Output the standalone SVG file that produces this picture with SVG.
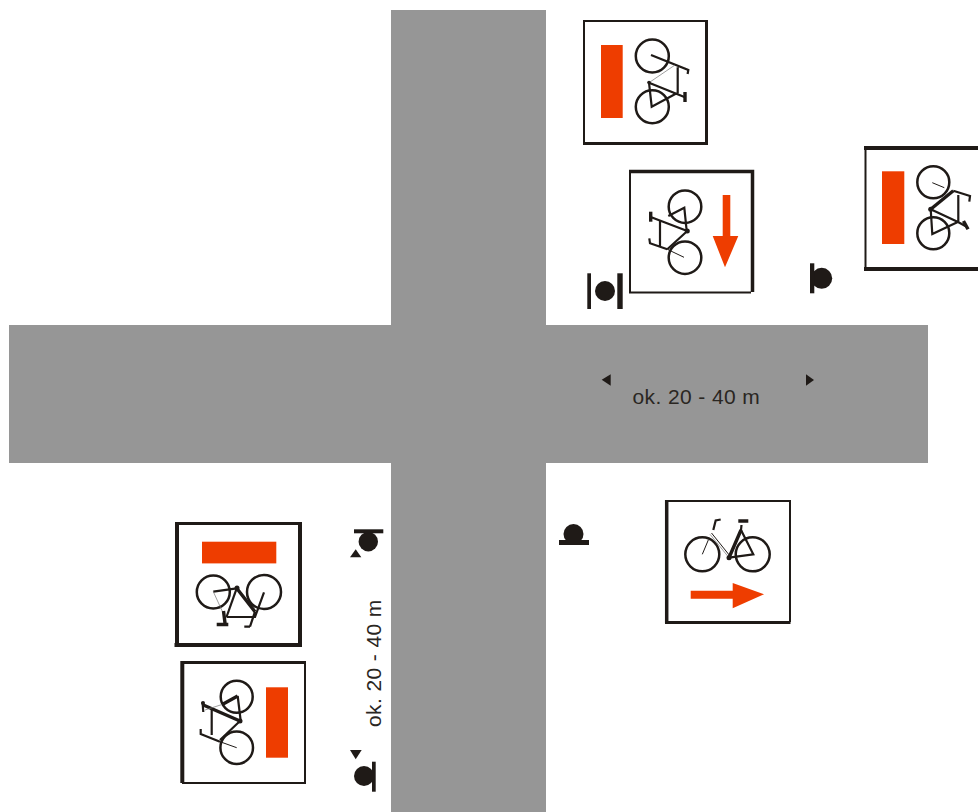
<svg xmlns="http://www.w3.org/2000/svg" width="978" height="812" viewBox="0 0 978 812">
<style>
.road{fill:#969696}
.red{fill:#ee3d00}
.ink{fill:#1f1a17}
.box{fill:#fff}
.e{stroke:#1f1a17;fill:none}
.wheel{stroke:#1f1a17;fill:none;stroke-width:2.500}
.b1{stroke:#1f1a17;fill:none;stroke-width:1}
.b2{stroke:#1f1a17;fill:none;stroke-width:2.200}
.b3{stroke:#1f1a17;fill:none;stroke-width:3.400}
.thin{stroke:#777;fill:none;stroke-width:.7}
.lbl{font-family:"Liberation Sans",Arial,sans-serif;font-size:21px;letter-spacing:.4px;fill:#2a2622}
</style>
<g id="roads">
<rect class="road" x="391" y="10" width="155" height="802"/>
<rect class="road" x="9" y="325" width="919" height="138"/>
</g>
<g id="sign-top">
<rect class="box" x="584" y="20" width="122" height="122"/>
<path class="e" stroke-width="2" d="M584 142V21H706"/>
<path class="e" stroke-width="3" d="M706.500 20V143.500H583"/>
<rect class="red" x="601" y="45" width="21.700" height="73"/>
<circle class="wheel" cx="652.300" cy="56" r="16.500"/>
<circle class="wheel" cx="652.300" cy="106.700" r="16.500"/>
<path class="b2" d="M651 55L688.300 70L687.600 74M677.700 67.300V93.300M649 82.700L685 97.300M649 82.700L651.700 106.700L676.700 93.300"/>
<path class="thin" d="M675 65L649 82.700"/>
<path class="b3" d="M685 92V102"/>
<circle class="ink" cx="649" cy="82.500" r="1.800"/>
</g>
<g id="sign-down">
<rect class="box" x="630" y="171" width="122" height="121"/>
<path class="e" stroke-width="2" d="M630 171V292.500H751"/>
<path class="e" stroke-width="3.500" d="M629 171.500H752.500V292"/>
<path class="red" d="M722.700 195H730.300V236H738.300L725 267.300L712.700 236H722.700Z"/>
<circle class="wheel" cx="685" cy="206.700" r="16.300"/>
<circle class="wheel" cx="685" cy="257.700" r="16.300"/>
<path class="b2" d="M650 216.700L687.300 231M660 220V247.300M668.300 216L684.300 207.700L686.700 231M667.300 249.300L687.300 231M649.300 238.300L650 243.300L667.300 249.300"/>
<path class="b1" d="M667.300 249.300L684 257.300"/>
<path class="b3" d="M650.700 211.700V221.700"/>
<circle class="ink" cx="687.300" cy="231" r="2.500"/>
</g>
<g id="sign-right">
<rect class="box" x="865" y="148" width="113" height="120"/>
<path class="e" stroke-width="2" d="M865.500 148V268"/>
<path class="e" stroke-width="4" d="M864 148H978M864 269H978"/>
<rect class="red" x="882" y="171.300" width="22.300" height="72.700"/>
<circle class="wheel" cx="933.300" cy="182.300" r="16"/>
<circle class="wheel" cx="933.300" cy="233.300" r="16"/>
<path class="b1" d="M932.300 182.700L944.300 187.700"/>
<path class="b3" d="M953.300 190.700L930.700 209.300"/>
<path class="b2" d="M953.300 190.700L970 196L969.300 201.700M958.300 195V221.700M930.700 209.300L958 222L966.700 226.700M930.700 209.300L932.300 234L958.300 221.700"/>
<path class="b3" d="M963.500 221L968 229.300"/>
<circle class="ink" cx="930.700" cy="209.300" r="2.500"/>
</g>
<g id="sign-left-top">
<rect class="box" x="176" y="523" width="124" height="122"/>
<path class="e" stroke-width="4" d="M177 522V647M174.500 645H301.500M300 647V522"/>
<path class="e" stroke-width="3" d="M175 523.500H301"/>
<rect class="red" x="202" y="541.700" width="74.300" height="21.700"/>
<circle class="wheel" cx="213.300" cy="592" r="16.500"/>
<circle class="wheel" cx="264" cy="592" r="17"/>
<path class="b2" d="M213.300 591.700L236.700 588.300M226.500 617H255L264 592.300M255 611.700L250 626.700M244.300 626.700H250"/>
<path class="thin" d="M213.300 591.700L224 615"/>
<path class="b2" d="M236.700 588.300L226.500 617"/>
<path class="b3" d="M236.700 588.300L255 611.700M223.500 611L225 623M216.700 624.500H228.300"/>
<circle class="ink" cx="237" cy="588" r="2.500"/>
</g>
<g id="sign-left-bottom">
<rect class="box" x="182" y="662" width="123" height="121"/>
<path class="e" stroke-width="4" d="M182.300 661V783"/>
<path class="e" stroke-width="3" d="M182 662.500H306"/>
<path class="e" stroke-width="2" d="M305 662V783H182"/>
<rect class="red" x="266" y="687.300" width="22" height="70.400"/>
<circle class="wheel" cx="236.700" cy="696.700" r="16"/>
<circle class="wheel" cx="236.700" cy="747.700" r="16.300"/>
<path class="b3" d="M203.300 705L240 721M222.700 704.300L237.700 696"/>
<path class="b2" d="M237.700 696L240.700 721M211.700 708.300V735M200.700 729L200.700 734L220 741.700M220 740L240 721"/>
<path class="b1" d="M220 741.700L236.700 747.700"/>
<path class="thin" d="M222 704.500L205 710"/>
<path class="b2" d="M202.500 702L203.300 712"/>
<circle class="ink" cx="203" cy="703" r="2"/>
<circle class="ink" cx="240" cy="721" r="2.500"/>
</g>
<g id="sign-bottom-right">
<rect class="box" x="666" y="501" width="124" height="121"/>
<path class="e" stroke-width="3.500" d="M666.700 500V623"/>
<path class="e" stroke-width="2" d="M665 501H790V622"/>
<path class="e" stroke-width="3" d="M665 622.500H790.500"/>
<path class="red" d="M690.700 590.700H732.700V583L764 594.300L732.700 608.300V598.700H690.700Z"/>
<circle class="wheel" cx="702.300" cy="554.300" r="17"/>
<circle class="wheel" cx="752.700" cy="554.300" r="17"/>
<path class="b1" d="M702.300 554.300L708.300 540"/>
<path class="b2" d="M713.300 530L715.700 520.500L720.700 519.500M741 530L753.300 554.300L729 557.700M741.500 525L741 530"/>
<path class="thin" d="M710 534.300L729 557.700"/>
<path class="b1" d="M711.500 533L730 556"/>
<path class="b3" d="M729 557.700L741 530M738.300 521H748.300"/>
<circle class="ink" cx="729" cy="557.700" r="2.500"/>
</g>
<g id="marker-1">
<circle class="ink" cx="605" cy="291" r="10"/>
<rect class="ink" x="587.300" y="273.300" width="3.700" height="35.700"/>
<rect class="ink" x="617.300" y="273.300" width="5.400" height="35.700"/>
</g>
<g id="marker-2">
<circle class="ink" cx="821.700" cy="278.300" r="10.500"/>
<rect class="ink" x="810" y="263.300" width="4.300" height="30"/>
</g>
<g id="marker-3">
<circle class="ink" cx="573.500" cy="534" r="10"/>
<rect class="ink" x="559" y="540" width="30" height="5"/>
</g>
<g id="marker-4">
<circle class="ink" cx="368.300" cy="541.700" r="9.700"/>
<rect class="ink" x="354" y="529.300" width="29.300" height="4"/>
</g>
<g id="marker-5">
<circle class="ink" cx="364" cy="776" r="10"/>
<rect class="ink" x="372" y="761.700" width="3.700" height="30"/>
</g>
<g id="dimensions">
<path class="ink" d="M601.700 379.700L610.700 374.300V385.700Z"/>
<path class="ink" d="M806 374.300L814 380L806 385.700Z"/>
<path class="ink" d="M350 557.300H361.300L355.700 549.300Z"/>
<path class="ink" d="M350 750H361.700L355.700 759.300Z"/>
<text class="lbl" x="632.500" y="403.500">ok. 20 - 40 m</text>
<text class="lbl" transform="translate(381 727) rotate(-90)">ok. 20 - 40 m</text>
</g>
</svg>
